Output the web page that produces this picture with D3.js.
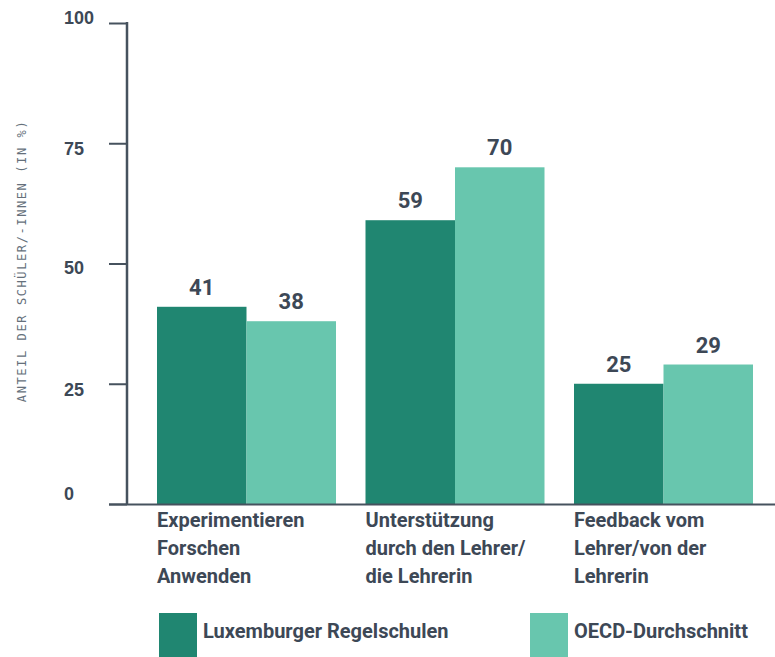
<!DOCTYPE html>
<html>
<head>
<meta charset="utf-8">
<script src="https://cdn.jsdelivr.net/npm/d3@7"></script>
<style>
  body { margin: 0; background: #fff; }
  svg { display: block; font-family: "Roboto", "DejaVu Sans", sans-serif; }
</style>
</head>
<body>
<svg></svg>
<script>
// Data
const categories = [
  ["Experimentieren", "Forschen", "Anwenden"],
  ["Unterstützung", "durch den Lehrer/", "die Lehrerin"],
  ["Feedback vom", "Lehrer/von der", "Lehrerin"]
];
const seriesNames = ["Luxemburger Regelschulen", "OECD-Durchschnitt"];
const luxValues = [41, 59, 25];
const oecdValues = [38, 70, 29];
const yTicks = [0, 25, 50, 75, 100];

const width = 775;
const height = 657;
const textColor = "#3d4856";
const colors = ["#208671", "#68c6ae"];

const svg = d3.select("svg")
  .attr("width", width)
  .attr("height", height);

// Scales
const x = d3.scaleBand()
  .domain(d3.range(categories.length))
  .range([157, 753])
  .paddingInner(0.1415)
  .paddingOuter(0);

const xSub = d3.scaleBand()
  .domain([0, 1])
  .range([0, x.bandwidth()]);

const y = d3.scaleLinear()
  .domain([0, 100])
  .range([504, 23]);

// Bars
const series = [luxValues, oecdValues];
series.forEach((vals, s) => {
  svg.append("g")
    .selectAll("rect")
    .data(vals)
    .enter()
    .append("rect")
    .attr("x", (d, i) => x(i) + xSub(s))
    .attr("y", d => y(d))
    .attr("width", xSub.bandwidth())
    .attr("height", d => y(0) - y(d))
    .attr("fill", colors[s]);

  // Value labels
  svg.append("g")
    .selectAll("text")
    .data(vals)
    .enter()
    .append("text")
    .attr("x", (d, i) => x(i) + xSub(s) + xSub.bandwidth() / 2)
    .attr("y", d => y(d) - 12)
    .attr("text-anchor", "middle")
    .attr("fill", textColor)
    .style("font-size", "22px")
    .style("font-weight", "bold")
    .text(d => d);
});

// Y axis ticks (labels are left aligned, old-style figures shift a bit)
const labelShift = { 0: -11, 25: 5, 50: 4, 75: 5, 100: -6 };
const yAxis = svg.append("g")
  .attr("transform", "translate(127,0)")
  .call(d3.axisLeft(y).tickValues(yTicks).tickSize(18));
yAxis.select(".domain").remove();
yAxis.selectAll(".tick line")
  .attr("stroke", "#46525e")
  .attr("stroke-width", 2);
yAxis.selectAll(".tick text")
  .attr("x", 64 - 127)
  .attr("dy", "0.35em")
  .attr("y", d => labelShift[d])
  .attr("text-anchor", "start")
  .attr("fill", textColor)
  .style("font-size", "18px")
  .style("font-weight", "bold");

svg.append("line")
  .attr("x1", 127).attr("x2", 127)
  .attr("y1", y(100) - 1).attr("y2", y(0))
  .attr("stroke", "#46525e")
  .attr("stroke-width", 2.5);

// X axis baseline
svg.append("line")
  .attr("x1", 109).attr("x2", width)
  .attr("y1", y(0) + 0.5).attr("y2", y(0) + 0.5)
  .attr("stroke", "#46525e")
  .attr("stroke-width", 2);

// Category labels
categories.forEach((lines, i) => {
  const t = svg.append("text")
    .attr("x", x(i))
    .attr("y", 527)
    .attr("fill", textColor)
    .style("font-size", "20px")
    .style("font-weight", "bold");
  lines.forEach((line, j) => {
    t.append("tspan")
      .attr("x", x(i))
      .attr("dy", j === 0 ? 0 : 27.8)
      .text(line);
  });
});

// Y axis title
svg.append("text")
  .attr("transform", "translate(26,261) rotate(-90)")
  .attr("text-anchor", "middle")
  .attr("fill", "#65707b")
  .style("font-family", "'DejaVu Sans Mono', monospace")
  .style("font-size", "12px")
  .style("letter-spacing", "1.6px")
  .text("ANTEIL DER SCHÜLER/-INNEN (IN %)");

// Legend
const legendX = [159, 530];
seriesNames.forEach((name, s) => {
  svg.append("rect")
    .attr("x", legendX[s])
    .attr("y", 613)
    .attr("width", 38)
    .attr("height", 44)
    .attr("fill", colors[s]);
  svg.append("text")
    .attr("x", legendX[s] + 44)
    .attr("y", 638)
    .attr("fill", textColor)
    .style("font-size", "20px")
    .style("font-weight", "bold")
    .text(name);
});
</script>
</body>
</html>
